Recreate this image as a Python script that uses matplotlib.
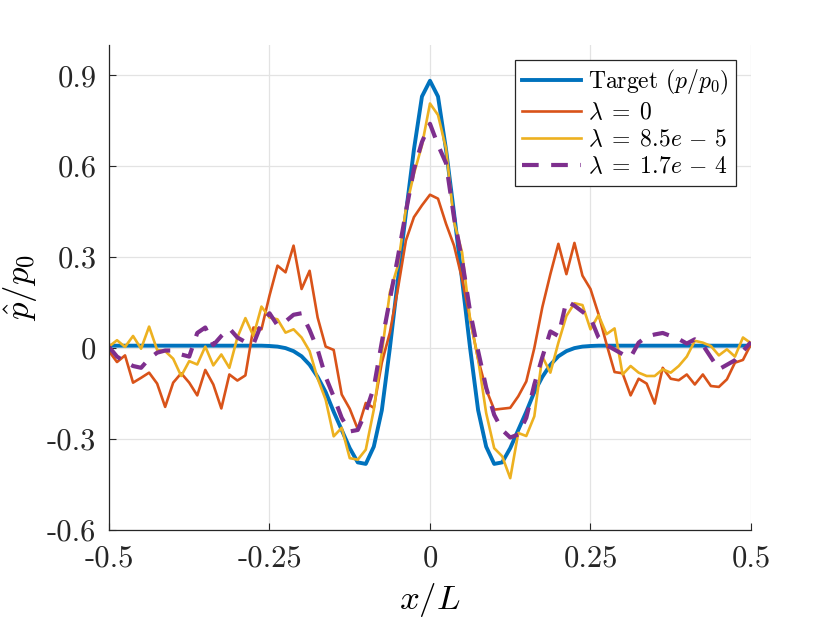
import numpy as np
import matplotlib
matplotlib.use("Agg")
import matplotlib.pyplot as plt

# font setup to look like the MATLAB/LaTeX export
plt.rcParams['font.family'] = ['cmr10', 'DejaVu Serif']
plt.rcParams['mathtext.fontset'] = 'cm'
plt.rcParams['axes.unicode_minus'] = False
plt.rcParams['axes.formatter.use_mathtext'] = True

# sample grid x/L
x = np.linspace(-0.5, 0.5, 81)

target = [0.008, 0.008, 0.008, 0.008, 0.008, 0.008, 0.008, 0.008, 0.008, 0.008,
          0.008, 0.008, 0.008, 0.008, 0.008, 0.008, 0.008, 0.008, 0.008, 0.008,
          0.007, 0.005, 0.0, -0.01, -0.027, -0.055, -0.095, -0.145, -0.21, -0.27,
          -0.33, -0.377, -0.382, -0.325, -0.205, 0.0, 0.225, 0.445, 0.655, 0.83,
          0.882,
          0.83, 0.655, 0.445, 0.225, 0.0, -0.205, -0.325, -0.382, -0.377, -0.33,
          -0.27, -0.21, -0.145, -0.095, -0.055, -0.027, -0.01, 0.0, 0.005, 0.007,
          0.008, 0.008, 0.008, 0.008, 0.008, 0.008, 0.008, 0.008, 0.008, 0.008,
          0.008, 0.008, 0.008, 0.008, 0.008, 0.008, 0.008, 0.008, 0.008, 0.008]

lam_0 = [-0.010, -0.046, -0.024, -0.114, -0.098, -0.081, -0.117, -0.194, -0.114, -0.083,
         -0.114, -0.156, -0.072, -0.120, -0.199, -0.087, -0.107, -0.090, 0.068, 0.062,
         0.173, 0.272, 0.250, 0.338, 0.195, 0.255, 0.101, 0.005, -0.006, -0.153,
         -0.200, -0.267, -0.181, -0.197, -0.048, 0.051, 0.195, 0.355, 0.432, 0.471,
         0.506,
         0.493, 0.410, 0.338, 0.228, 0.095, -0.037, -0.136, -0.203, -0.200, -0.197,
         -0.159, -0.110, 0.000, 0.135, 0.244, 0.344, 0.244, 0.347, 0.239, 0.195,
         0.112, 0.013, -0.079, -0.083, -0.156, -0.101, -0.117, -0.183, -0.065, -0.101,
         -0.106, -0.087, -0.120, -0.087, -0.125, -0.128, -0.103, -0.048, -0.039, 0.013]

lam_85 = [0.005, 0.026, 0.004, 0.040, -0.002, 0.071, -0.006, -0.010, -0.035, -0.092,
          -0.043, -0.054, 0.005, -0.057, -0.021, -0.065, 0.035, 0.099, 0.040, 0.137,
          0.101, 0.095, 0.051, 0.062, 0.035, -0.010, -0.100, -0.170, -0.291, -0.263,
          -0.363, -0.368, -0.335, -0.203, -0.015, 0.184, 0.272, 0.460, 0.575, 0.669,
          0.807,
          0.769, 0.658, 0.416, 0.316, 0.095, -0.037, -0.214, -0.330, -0.357, -0.429,
          -0.280, -0.290, -0.225, -0.028, -0.081, 0.018, 0.106, 0.148, 0.142, 0.062,
          0.109, 0.046, 0.065, -0.087, -0.059, -0.081, -0.092, -0.092, -0.070, -0.081,
          -0.059, -0.028, 0.024, 0.018, 0.007, -0.024, -0.004, -0.028, 0.035, 0.016]

lam_17 = [0.004, -0.028, -0.045, -0.059, -0.065, -0.035, -0.015, -0.008, -0.008, -0.021,
          -0.028, 0.050, 0.068, 0.010, 0.040, 0.065, 0.035, 0.020, 0.013, 0.080,
          0.115, 0.075, 0.088, 0.110, 0.115, 0.060, -0.005, -0.095, -0.160, -0.230,
          -0.275, -0.270, -0.210, -0.130, 0.020, 0.160, 0.300, 0.450, 0.590, 0.680,
          0.740,
          0.670, 0.610, 0.430, 0.290, 0.120, -0.010, -0.130, -0.220, -0.270, -0.295,
          -0.285, -0.230, -0.120, -0.030, 0.055, 0.040, 0.155, 0.140, 0.120, 0.100,
          0.035, 0.010, -0.005, -0.020, -0.030, 0.018, 0.038, 0.045, 0.050, 0.040,
          0.030, 0.015, 0.029, 0.010, -0.030, -0.070, -0.055, -0.040, -0.010, 0.020]

xticks = [-0.5, -0.25, 0, 0.25, 0.5]
xtick_labels = ['-0.5', '-0.25', '0', '0.25', '0.5']
yticks = [-0.6, -0.3, 0, 0.3, 0.6, 0.9]
ytick_labels = ['-0.6', '-0.3', '0', '0.3', '0.6', '0.9']

fig = plt.figure(figsize=(8.3, 6.23), dpi=100)
ax = fig.add_axes([0.1313, 0.1493, 0.7735, 0.7785])

ax.plot(x, target, color='#0072BD', linewidth=2.8, label=r'Target $(p/p_0)$')
ax.plot(x, lam_0, color='#D95319', linewidth=1.9, label=r'$\lambda \;=\; 0$')
ax.plot(x, lam_85, color='#EDB120', linewidth=1.9, label=r'$\lambda \;=\; 8.5e \,-\, 5$')
ax.plot(x, lam_17, color='#7E2F8E', linewidth=3.0, linestyle=(0, (4, 3)),
        label=r'$\lambda \;=\; 1.7e \,-\, 4$')

ax.set_xlim(-0.5, 0.5)
ax.set_ylim(-0.6, 1.0)
ax.set_xticks(xticks)
ax.set_xticklabels(xtick_labels)
ax.set_yticks(yticks)
ax.set_yticklabels(ytick_labels)
ax.tick_params(direction='in', length=5, width=0.8, color='#262626',
               labelsize=22, labelcolor='#262626', pad=9)
ax.tick_params(axis='x', pad=11)

ax.grid(True, color='#e3e3e3', linewidth=0.9)
ax.set_axisbelow(True)
for side in ['top', 'right']:
    ax.spines[side].set_visible(False)
for side in ['left', 'bottom']:
    ax.spines[side].set_color('#262626')
    ax.spines[side].set_linewidth(0.9)

ax.set_xlabel(r'$x/L$', fontsize=25, labelpad=6)
ax.set_ylabel(r'$\hat{p}/p_0$', fontsize=25, labelpad=6)

leg = ax.legend(loc='upper right', fontsize=17, handlelength=2.5, handletextpad=0.3,
                labelspacing=0.22, borderpad=0.3, borderaxespad=0.65,
                fancybox=False, framealpha=1)
leg.get_frame().set_edgecolor('#262626')
leg.get_frame().set_linewidth(0.9)

fig.savefig('out.png', dpi=100)
